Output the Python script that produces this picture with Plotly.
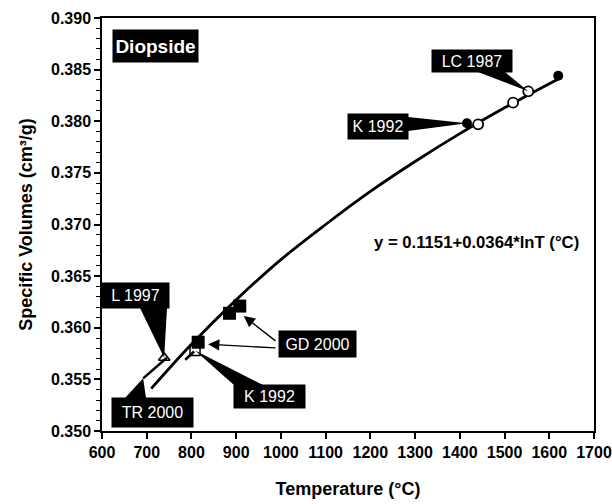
import plotly.graph_objects as go

# ---- data ----
curve_T = [710, 800, 900, 1000, 1100, 1200, 1300, 1400, 1500, 1620]
curve_V = [0.3541, 0.3584, 0.3627, 0.3666, 0.3700, 0.3732, 0.3761, 0.3788, 0.3813, 0.3841]

tr2000_T = [692, 745]
tr2000_V = [0.3551, 0.3571]

k1992_seg_T = [786, 806]
k1992_seg_V = [0.3569, 0.3577]

filled_circle_T = [1416, 1620]
filled_circle_V = [0.3798, 0.3844]

open_circle_T = [1441, 1519, 1553]
open_circle_V = [0.3797, 0.3818, 0.3829]

filled_square_T = [815, 885, 908]
filled_square_V = [0.3586, 0.3614, 0.3621]

open_square_T = [808]
open_square_V = [0.3578]

triangle_T = [739]
triangle_V = [0.3571]

x_ticks = [600, 700, 800, 900, 1000, 1100, 1200, 1300, 1400, 1500, 1600, 1700]
y_ticks = [0.350, 0.355, 0.360, 0.365, 0.370, 0.375, 0.380, 0.385, 0.390]

# ---- layout geometry ----
W, H = 612, 504
ML, MR, MT, MB = 102, 18, 18, 73
X0, X1 = 600, 1700
Y0, Y1 = 0.350, 0.390
PW, PH = W - ML - MR, H - MT - MB


def px2x(px):
    return X0 + (px - ML) * (X1 - X0) / PW


def py2y(py):
    return Y1 - (py - MT) * (Y1 - Y0) / PH


FONT = "Liberation Sans, Arial, sans-serif"

fig = go.Figure()

fig.add_trace(go.Scatter(x=curve_T, y=curve_V, mode="lines", line=dict(color="black", width=2.8, shape="spline"), showlegend=False))
fig.add_trace(go.Scatter(x=tr2000_T, y=tr2000_V, mode="lines", line=dict(color="black", width=2.5), showlegend=False))
fig.add_trace(go.Scatter(x=k1992_seg_T, y=k1992_seg_V, mode="lines", line=dict(color="black", width=2.5), showlegend=False))
fig.add_trace(go.Scatter(x=open_square_T, y=open_square_V, mode="markers",
                         marker=dict(symbol="square-open", size=10, color="black", line=dict(width=1.5)), showlegend=False))
fig.add_trace(go.Scatter(x=filled_square_T, y=filled_square_V, mode="markers",
                         marker=dict(symbol="square", size=13, color="black"), showlegend=False))
fig.add_trace(go.Scatter(x=triangle_T, y=triangle_V, mode="markers",
                         marker=dict(symbol="triangle-up-open", size=10, color="black", line=dict(width=1.5)), showlegend=False))
fig.add_trace(go.Scatter(x=open_circle_T, y=open_circle_V, mode="markers",
                         marker=dict(symbol="circle", size=10, color="white", line=dict(width=1.8, color="black")), showlegend=False))
fig.add_trace(go.Scatter(x=filled_circle_T, y=filled_circle_V, mode="markers",
                         marker=dict(symbol="circle", size=10, color="black"), showlegend=False))

# ---- label boxes (pixel boxes: x0, y0, x1, y1) ----
labels = [
    ("Diopside", (113, 30, 198, 62), True, 19),
    ("LC 1987", (432, 50, 512, 72), False, 16),
    ("K 1992", (348, 114, 408, 139), False, 16),
    ("L 1997", (102, 283, 169, 308), False, 16),
    ("TR 2000", (112, 398, 193, 427), False, 16),
    ("K 1992", (234, 385, 305, 408), False, 16),
    ("GD 2000", (279, 331, 356, 357), False, 16),
]
for text, (bx0, by0, bx1, by1), bold, fs in labels:
    fig.add_annotation(x=px2x((bx0 + bx1) / 2), y=py2y((by0 + by1) / 2), xref="x", yref="y",
                       text=("<b>%s</b>" % text) if bold else text, showarrow=False,
                       font=dict(family=FONT, size=fs, color="white"),
                       bgcolor="black", width=bx1 - bx0, height=by1 - by0, borderpad=0,
                       xanchor="center", yanchor="middle", align="center", valign="middle")

# ---- callout wedges (base points in pixels, tip at data point) ----
wedges = [
    ((478, 72), (505, 72), (open_circle_T[2], open_circle_V[2])),
    ((408, 117), (408, 131), (filled_circle_T[0], filled_circle_V[0])),
    ((140, 308), (167, 308), (triangle_T[0], triangle_V[0])),
    ((125, 398), (146, 398), (tr2000_T[0], tr2000_V[0])),
    ((234, 385), (263, 385), (open_square_T[0], open_square_V[0])),
]
for (ax0, ay0), (ax1, ay1), (tx, ty) in wedges:
    path = "M %f,%f L %f,%f L %f,%f Z" % (px2x(ax0), py2y(ay0), px2x(ax1), py2y(ay1), tx, ty)
    fig.add_shape(type="path", path=path, xref="x", yref="y", fillcolor="black", line=dict(width=0))

# ---- GD 2000 arrows ----
arrows = [
    ((277, 342), (filled_square_T[2], filled_square_V[2]), (4, 10)),
    ((277, 348), (filled_square_T[0], filled_square_V[0]), (10, 2)),
]
for (sx, sy), (tx, ty), (dx, dy) in arrows:
    fig.add_annotation(x=px2x(ML + (tx - X0) * PW / (X1 - X0) + dx), y=py2y(MT + (Y1 - ty) * PH / (Y1 - Y0) + dy),
                       ax=px2x(sx), ay=py2y(sy), xref="x", yref="y", axref="x", ayref="y",
                       text="", showarrow=True, arrowhead=2, arrowsize=1.6, arrowwidth=1.4,
                       arrowcolor="black", standoff=0, startstandoff=0)

# ---- equation ----
fig.add_annotation(x=px2x(372), y=py2y(242), xref="x", yref="y", xanchor="left", yanchor="middle",
                   text="<b>y = 0.1151+0.0364*lnT (°C)</b>", showarrow=False,
                   font=dict(family=FONT, size=16.7, color="black"))

fig.update_layout(
    width=W, height=H,
    margin=dict(l=ML, r=MR, t=MT, b=MB, pad=0, autoexpand=False),
    plot_bgcolor="white", paper_bgcolor="white",
    font=dict(family=FONT, color="black"),
    xaxis=dict(range=[X0, X1], tickvals=x_ticks, ticktext=["<b>%d</b>" % v for v in x_ticks],
               ticks="outside", ticklen=6, tickwidth=1.5, tickcolor="black", automargin=False,
               showline=True, linecolor="black", linewidth=1.5, mirror=True, showgrid=False, zeroline=False,
               tickfont=dict(family=FONT, size=16, color="black"),
               title=dict(text="<b>Temperature (°C)</b>", font=dict(family=FONT, size=18), standoff=22)),
    yaxis=dict(range=[Y0, Y1], tickvals=y_ticks, ticktext=["<b>%.3f</b>" % v for v in y_ticks],
               ticks="outside", ticklen=6, tickwidth=1.5, tickcolor="black", automargin=False,
               minor=dict(dtick=0.001, ticks="outside", ticklen=4, tickwidth=1.2, tickcolor="black", showgrid=False),
               showline=True, linecolor="black", linewidth=1.5, mirror=True, showgrid=False, zeroline=False,
               tickfont=dict(family=FONT, size=16, color="black"),
               title=dict(text="<b>Specific Volumes (cm³/g)</b>", font=dict(family=FONT, size=18), standoff=14)),
)

fig.write_html("out.html", config={"displayModeBar": False},
               post_script="document.body.style.margin='0';document.body.style.overflow='hidden';")
